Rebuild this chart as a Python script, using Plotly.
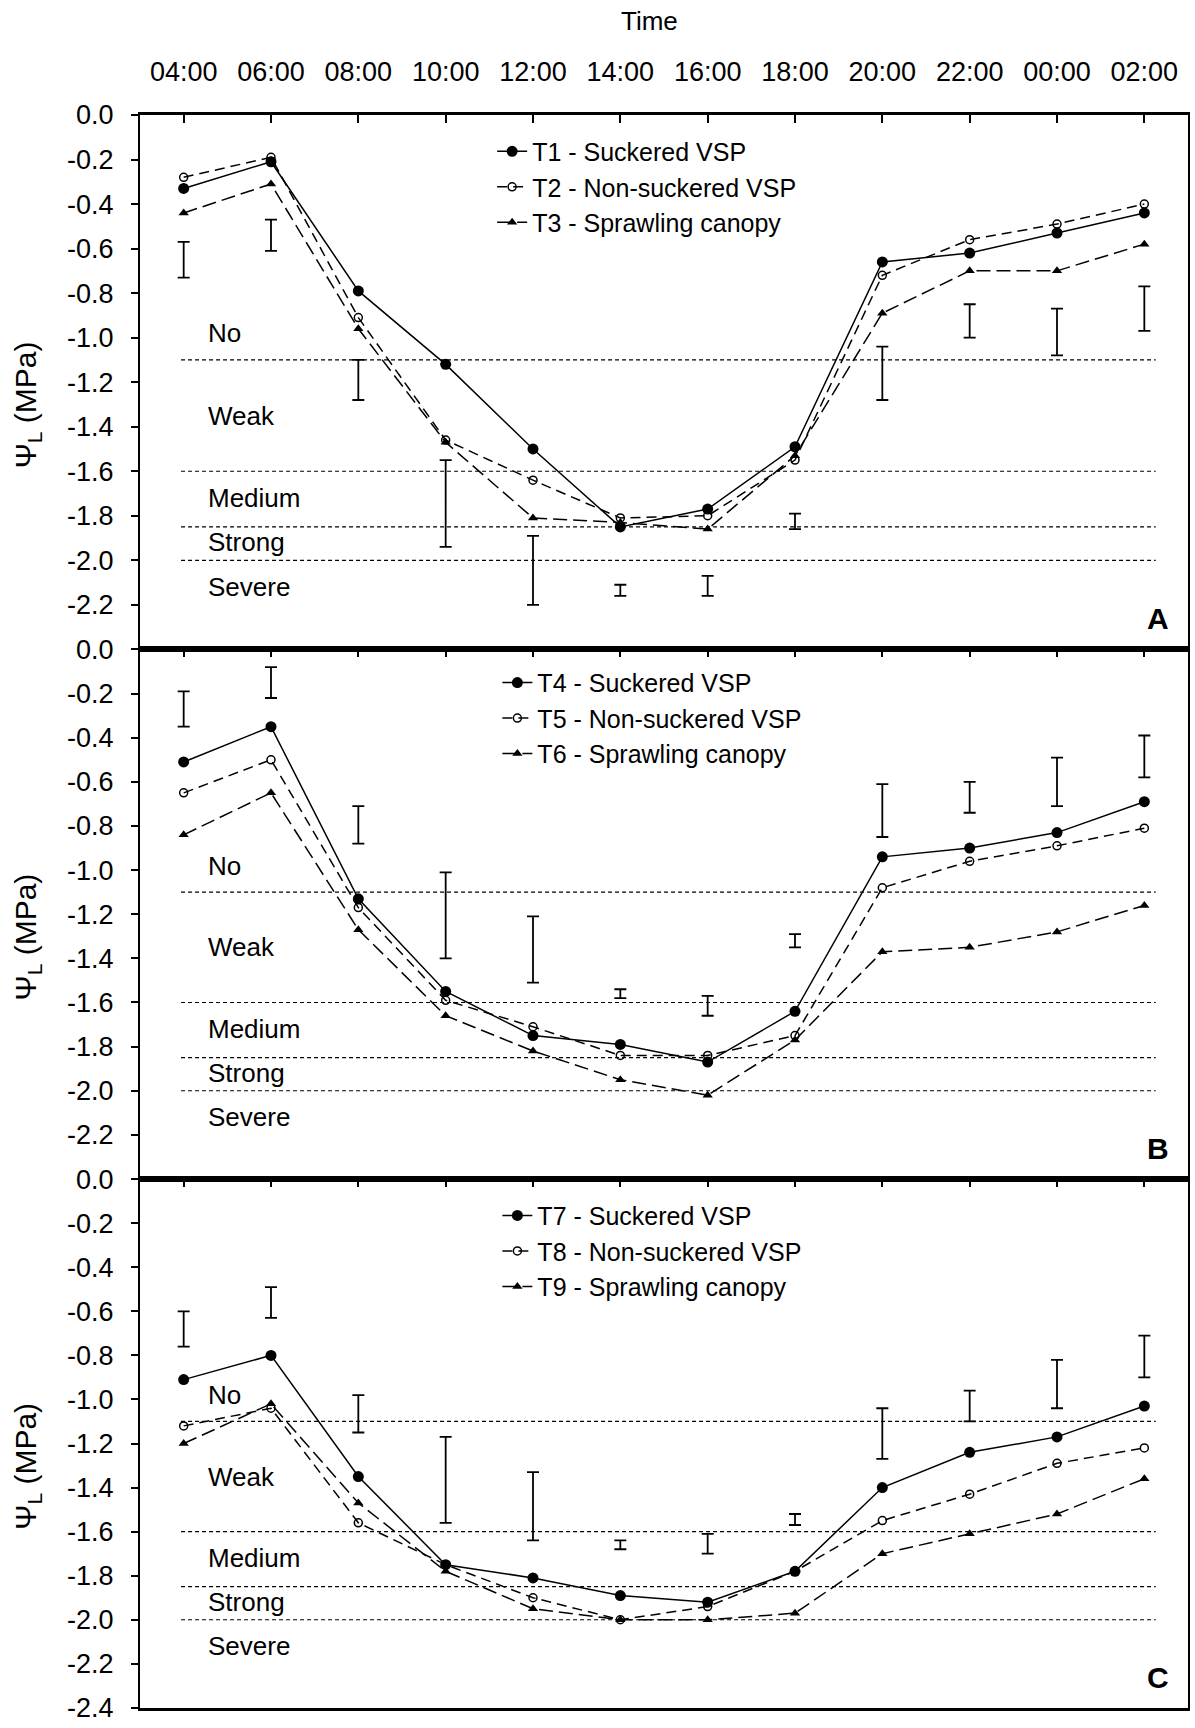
import plotly.graph_objects as go

# ---------------- data ----------------
times = ["04:00", "06:00", "08:00", "10:00", "12:00", "14:00",
         "16:00", "18:00", "20:00", "22:00", "00:00", "02:00"]

# Panel A
t1 = [-0.33, -0.21, -0.79, -1.12, -1.50, -1.85, -1.77, -1.49, -0.66, -0.62, -0.53, -0.44]
t2 = [-0.28, -0.19, -0.91, -1.46, -1.64, -1.81, -1.80, -1.55, -0.72, -0.56, -0.49, -0.40]
t3 = [-0.44, -0.31, -0.96, -1.47, -1.81, -1.83, -1.86, -1.53, -0.89, -0.70, -0.70, -0.58]
errA_top = [-0.57, -0.47, -1.10, -1.55, -1.89, -2.11, -2.07, -1.79, -1.04, -0.85, -0.87, -0.77]
errA_bot = [-0.73, -0.61, -1.28, -1.94, -2.20, -2.16, -2.16, -1.86, -1.28, -1.00, -1.08, -0.97]

# Panel B
t4 = [-0.51, -0.35, -1.13, -1.55, -1.75, -1.79, -1.87, -1.64, -0.94, -0.90, -0.83, -0.69]
t5 = [-0.65, -0.50, -1.17, -1.59, -1.71, -1.84, -1.84, -1.75, -1.08, -0.96, -0.89, -0.81]
t6 = [-0.84, -0.65, -1.27, -1.66, -1.82, -1.95, -2.02, -1.77, -1.37, -1.35, -1.28, -1.16]
errB_top = [-0.19, -0.08, -0.71, -1.01, -1.21, -1.54, -1.57, -1.29, -0.61, -0.60, -0.49, -0.39]
errB_bot = [-0.35, -0.22, -0.88, -1.40, -1.51, -1.58, -1.66, -1.35, -0.85, -0.74, -0.71, -0.58]

# Panel C
t7 = [-0.91, -0.80, -1.35, -1.75, -1.81, -1.89, -1.92, -1.78, -1.40, -1.24, -1.17, -1.03]
t8 = [-1.12, -1.04, -1.56, -1.75, -1.90, -2.00, -1.94, -1.78, -1.55, -1.43, -1.29, -1.22]
t9 = [-1.20, -1.02, -1.47, -1.78, -1.95, -2.00, -2.00, -1.97, -1.70, -1.61, -1.52, -1.36]
errC_top = [-0.60, -0.49, -0.98, -1.17, -1.33, -1.64, -1.61, -1.52, -1.04, -0.96, -0.82, -0.71]
errC_bot = [-0.76, -0.63, -1.15, -1.56, -1.64, -1.68, -1.70, -1.57, -1.27, -1.10, -1.04, -0.90]

# Water-stress thresholds (MPa) and zone names
thresholds = [-1.1, -1.6, -1.85, -2.0]
zones = ["No", "Weak", "Medium", "Strong", "Severe"]
zone_y = [-0.98, -1.35, -1.72, -1.92, -2.12]

names_A = ["T1 - Suckered VSP", "T2 - Non-suckered VSP", "T3 - Sprawling canopy"]
names_B = ["T4 - Suckered VSP", "T5 - Non-suckered VSP", "T6 - Sprawling canopy"]
names_C = ["T7 - Suckered VSP", "T8 - Non-suckered VSP", "T9 - Sprawling canopy"]
panel_letters = ["A", "B", "C"]

y_ticks = [0.0, -0.2, -0.4, -0.6, -0.8, -1.0, -1.2, -1.4, -1.6, -1.8, -2.0, -2.2, -2.4]
y_ticktext = ["0.0", "-0.2", "-0.4", "-0.6", "-0.8", "-1.0", "-1.2", "-1.4",
              "-1.6", "-1.8", "-2.0", "-2.2", "-2.4"]

# ---------------- figure ----------------
FONT = "Liberation Sans, Arial, sans-serif"
fig = go.Figure()

panels = [
    ("x", "y", "legend", names_A, (t1, t2, t3), errA_top, errA_bot),
    ("x2", "y2", "legend2", names_B, (t4, t5, t6), errB_top, errB_bot),
    ("x3", "y3", "legend3", names_C, (t7, t8, t9), errC_top, errC_bot),
]

styles = [
    dict(line=dict(color="black", width=1.5, dash="solid"),
         marker=dict(symbol="circle", size=11, color="black")),
    dict(line=dict(color="black", width=1.5, dash="10px,6px"),
         marker=dict(symbol="circle-open", size=8, color="black", line=dict(width=1.5))),
    dict(line=dict(color="black", width=1.5, dash="14px,6px"),
         marker=dict(symbol="triangle-up", size=9, color="black")),
]

for xa, ya, lg, names, series, etop, ebot in panels:
    mid = [(a + b) / 2 for a, b in zip(etop, ebot)]
    half = [(a - b) / 2 for a, b in zip(etop, ebot)]
    fig.add_trace(go.Scatter(
        x=times, y=mid, mode="markers", xaxis=xa, yaxis=ya, showlegend=False,
        marker=dict(size=1, color="rgba(0,0,0,0)"),
        error_y=dict(type="data", array=half, symmetric=True, width=6,
                     thickness=1.8, color="black"),
        hoverinfo="skip"))
    for name, vals, st in zip(names, series, styles):
        fig.add_trace(go.Scatter(
            x=times, y=vals, mode="lines+markers", name=name,
            xaxis=xa, yaxis=ya, legend=lg, **st))

domains = [[0.6645, 1.0], [0.332, 0.6645], [0.0, 0.332]]
layout = dict(
    width=1195, height=1728,
    margin=dict(l=140, r=5, t=115, b=12),
    plot_bgcolor="white", paper_bgcolor="white",
    font=dict(family=FONT, size=26, color="black"),
)

for i in range(3):
    xs = "xaxis" if i == 0 else f"xaxis{i+1}"
    ys = "yaxis" if i == 0 else f"yaxis{i+1}"
    yid = "y" if i == 0 else f"y{i+1}"
    xid = "x" if i == 0 else f"x{i+1}"
    layout[xs] = dict(
        domain=[0, 1], anchor=yid, side="top", type="category",
        categoryorder="array", categoryarray=times, range=[-0.5, 11.5],
        ticks="inside", ticklen=8, tickwidth=1.5, tickcolor="black",
        showline=True, linewidth=3, linecolor="black", mirror=True,
        showgrid=False, zeroline=False,
        showticklabels=(i == 0), tickfont=dict(size=27), ticklabelstandoff=20,
    )
    tv = y_ticks if i == 2 else y_ticks[:-1]
    tt = y_ticktext if i == 2 else y_ticktext[:-1]
    layout[ys] = dict(
        domain=domains[i], anchor=xid, range=[-2.4005, 0],
        tickmode="array", tickvals=tv, ticktext=tt,
        ticks="outside", ticklen=7, tickwidth=1.5, tickcolor="black",
        showline=True, linewidth=2, linecolor="black", mirror=True,
        showgrid=False, zeroline=False, tickfont=dict(size=27),
        ticklabelstandoff=12, ticklabeloverflow="allow",
    )

leg_common = dict(xanchor="left", yanchor="top", bgcolor="rgba(0,0,0,0)",
                  borderwidth=0, font=dict(size=25, family=FONT),
                  tracegroupgap=0, itemclick=False)
layout["legend"] = dict(x=0.336, y=0.9915, **leg_common)
layout["legend2"] = dict(x=0.341, y=0.6580, **leg_common)
layout["legend3"] = dict(x=0.341, y=0.3235, **leg_common)

fig.update_layout(**layout)

# threshold lines and zone labels
for i in range(3):
    xid = "x" if i == 0 else f"x{i+1}"
    yid = "y" if i == 0 else f"y{i+1}"
    for th in thresholds:
        fig.add_shape(type="line", xref=xid, yref=yid, x0=-0.03, x1=11.13,
                      y0=th, y1=th, line=dict(color="black", width=1.2, dash="4px,3px"))
    for z, zy in zip(zones, zone_y):
        fig.add_annotation(xref=xid, yref=yid, x=0.25, y=zy, text=z,
                           showarrow=False, xanchor="left", yanchor="middle",
                           font=dict(size=26, family=FONT))
    fig.add_annotation(xref=xid, yref=yid, x=11.3, y=-2.26, text=f"<b>{panel_letters[i]}</b>",
                       showarrow=False, xanchor="right", yanchor="middle",
                       font=dict(size=30, family=FONT))
    # y-axis title
    yc = (domains[i][0] + domains[i][1]) / 2 - 23 / 1601
    fig.add_annotation(xref="paper", yref="paper", x=-0.1076, y=yc,
                       text="Ψ<sub>L</sub> (MPa)", textangle=-90, showarrow=False,
                       xanchor="center", yanchor="middle", font=dict(size=30, family=FONT))

fig.add_annotation(xref="paper", yref="paper", x=0.486, y=1.0, yshift=94,
                   text="Time", showarrow=False, xanchor="center", yanchor="middle",
                   font=dict(size=26, family=FONT))

fig.write_html("out.html")
